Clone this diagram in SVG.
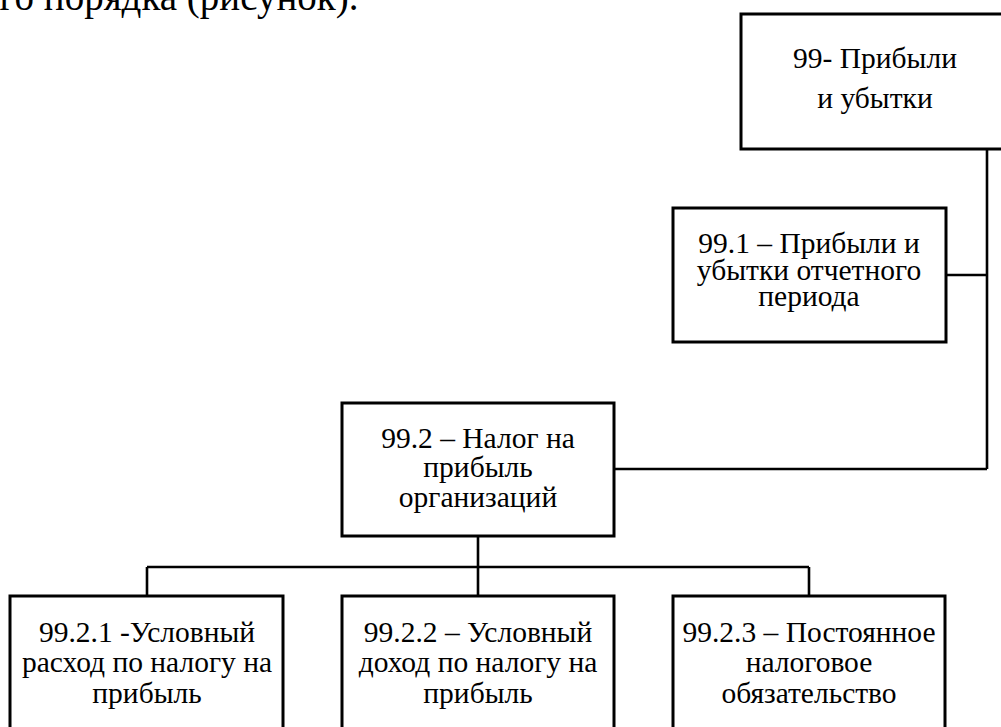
<svg xmlns="http://www.w3.org/2000/svg" width="1001" height="727" viewBox="0 0 1001 727">
<style>
.box{fill:#fff;stroke:#000;stroke-width:3}
.c{fill:none;stroke:#000;stroke-width:2.6}
text{font-family:"Liberation Serif","Times New Roman",serif;fill:#000}
.t{font-size:29.5px;text-anchor:middle}
.body{font-size:39px}
</style>
<rect width="1001" height="727" fill="#fff"/>
<text class="body" x="-20" y="10">ого порядка (рисунок).</text>
<g id="connectors">
<path class="c" d="M987,150 V469 M946,275 H987 M615,469 H987"/>
<path class="c" d="M478,537 V595 M147,567 H809 M147,567 V595 M809,567 V595"/>
</g>
<g id="n99">
<rect class="box" x="741" y="14" width="275" height="135"/>
<text class="t" x="875" y="68">99- Прибыли</text>
<text class="t" x="875" y="108">и убытки</text>
</g>
<g id="n99_1">
<rect class="box" x="673" y="208" width="273" height="134"/>
<text class="t" x="809" y="253">99.1 – Прибыли и</text>
<text class="t" x="809" y="280">убытки отчетного</text>
<text class="t" x="809" y="306">периода</text>
</g>
<g id="n99_2">
<rect class="box" x="342" y="403" width="272" height="133"/>
<text class="t" x="478" y="448">99.2 – Налог на</text>
<text class="t" x="478" y="477">прибыль</text>
<text class="t" x="478" y="507">организаций</text>
</g>
<g id="n99_2_1">
<rect class="box" x="10" y="596" width="273" height="150"/>
<text class="t" x="147" y="642">99.2.1 -Условный</text>
<text class="t" x="147" y="672">расход по налогу на</text>
<text class="t" x="147" y="703">прибыль</text>
</g>
<g id="n99_2_2">
<rect class="box" x="342" y="596" width="272" height="150"/>
<text class="t" x="478" y="642">99.2.2 – Условный</text>
<text class="t" x="478" y="672">доход по налогу на</text>
<text class="t" x="478" y="703">прибыль</text>
</g>
<g id="n99_2_3">
<rect class="box" x="673" y="596" width="272" height="150"/>
<text class="t" x="809" y="642">99.2.3 – Постоянное</text>
<text class="t" x="809" y="672">налоговое</text>
<text class="t" x="809" y="703">обязательство</text>
</g>
</svg>
